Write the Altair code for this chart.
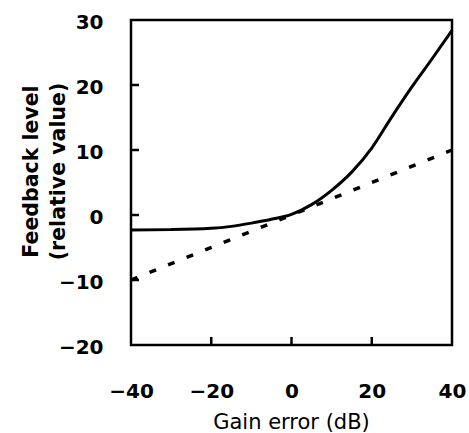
import altair as alt
import pandas as pd

# Solid curve: feedback level vs gain error
gain_solid = [-40, -30, -20, -15, -10, -5, 0, 5, 10, 15, 20, 25, 30, 35, 40]
level_solid = [-2.3, -2.25, -2.05, -1.75, -1.25, -0.65, 0.1, 1.6, 3.8, 6.6, 10.3, 15.1, 19.7, 24.0, 28.4]

# Dashed reference line
gain_dash = [-40, 40]
level_dash = [-10, 10]

x_ticks = [-40, -20, 0, 20, 40]
y_ticks = [-20, -10, 0, 10, 20, 30]
x_inner_ticks = [-20, 0, 20]
y_inner_ticks = [-10, 0, 10, 20]

solid_df = pd.DataFrame({"gain": gain_solid, "level": level_solid})
dash_df = pd.DataFrame({"gain": gain_dash, "level": level_dash})
xt_df = pd.DataFrame({"gain": x_inner_ticks})
yt_df = pd.DataFrame({"level": y_inner_ticks})

FONT = "DejaVu Sans"
W, H, TICK = 321, 325, 8

xscale = alt.Scale(domain=[-40, 40], nice=False, zero=False)
yscale = alt.Scale(domain=[-20, 30], nice=False, zero=False)

solid = alt.Chart(solid_df).mark_line(
    color="black", strokeWidth=3, interpolate="monotone"
).encode(
    x=alt.X("gain:Q", scale=xscale, axis=alt.Axis(
        values=x_ticks, ticks=False, domain=False, grid=False,
        labelFont=FONT, labelFontSize=20, labelFontWeight="bold", labelColor="black",
        labelPadding=36, labelFlush=False, labelOverlap=False, labelBound=False,
        title="Gain error (dB)", titleFont=FONT, titleFontSize=21, titleFontWeight="normal",
        titleColor="black", titleX=160, titleY=66, titleBaseline="top", titleAlign="center",
    )),
    y=alt.Y("level:Q", scale=yscale, axis=alt.Axis(
        values=y_ticks, ticks=False, domain=False, grid=False,
        labelFont=FONT, labelFontSize=20, labelFontWeight="bold", labelColor="black",
        labelPadding=28, labelFlush=False, labelOverlap=False, labelBound=False, labelOffset=2,
        title=["Feedback level", "(relative value)"], titleFont=FONT, titleFontSize=20.5,
        titleFontWeight="bold", titleColor="black", titleLineHeight=27,
        titleX=-100, titleY=151, titleBaseline="middle", titleAlign="center", titleAngle=270,
    )),
)

dashed = alt.Chart(dash_df).mark_line(
    color="black", strokeWidth=3.5, strokeDash=[7, 13], strokeCap="butt"
).encode(
    x=alt.X("gain:Q", scale=xscale),
    y=alt.Y("level:Q", scale=yscale),
)

# inward tick marks along the bottom and left edges
xticks_in = alt.Chart(xt_df).mark_rule(color="black", strokeWidth=2.5).encode(
    x=alt.X("gain:Q", scale=xscale),
    y=alt.value(H - TICK),
    y2=alt.value(H),
)
yticks_in = alt.Chart(yt_df).mark_rule(color="black", strokeWidth=2.5).encode(
    y=alt.Y("level:Q", scale=yscale),
    x=alt.value(0),
    x2=alt.value(TICK),
)

chart = alt.layer(solid, dashed, xticks_in, yticks_in).properties(
    width=W, height=H,
    autosize="none",
    padding={"left": 131, "top": 20, "right": 17, "bottom": 88},
    background="white",
).configure_view(
    stroke="black", strokeWidth=2.5
)

chart.save("out.html", embed_options={"renderer": "svg", "actions": False})
